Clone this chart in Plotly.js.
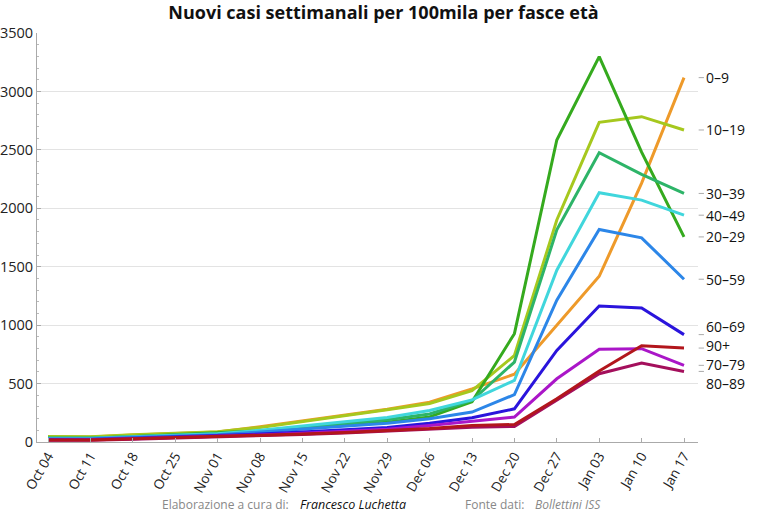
<!DOCTYPE html>
<html>
<head>
<meta charset="utf-8">
<script src="https://cdn.plot.ly/plotly-3.0.1.min.js"></script>
<style>html,body{margin:0;padding:0;background:#fff;}#chart{width:767px;height:514px;}</style>
</head>
<body>
<div id="chart"></div>
<script>
const weeks = ["Oct 04","Oct 11","Oct 18","Oct 25","Nov 01","Nov 08","Nov 15","Nov 22","Nov 29","Dec 06","Dec 13","Dec 20","Dec 27","Jan 03","Jan 10","Jan 17"];

const age_0_9   = [45, 42, 60, 75, 85, 130, 180, 225, 280, 340, 455, 580, 1000, 1418, 2215, 3118];
const age_10_19 = [48, 45, 62, 78, 88, 125, 175, 220, 275, 330, 440, 740, 1900, 2736, 2784, 2670];
const age_20_29 = [35, 35, 48, 62, 75, 95, 120, 145, 170, 215, 345, 927, 2584, 3298, 2480, 1755];
const age_30_39 = [33, 33, 45, 58, 72, 95, 125, 155, 190, 240, 355, 684, 1815, 2475, 2290, 2127];
const age_40_49 = [32, 32, 45, 57, 70, 100, 135, 170, 210, 270, 360, 527, 1470, 2133, 2070, 1941];
const age_50_59 = [28, 28, 40, 52, 62, 85, 110, 135, 160, 199, 256, 405, 1213, 1819, 1747, 1393];
const age_60_69 = [22, 22, 32, 42, 52, 68, 85, 105, 125, 161, 207, 284, 784, 1164, 1147, 919];
const age_70_79 = [18, 19, 28, 38, 48, 60, 75, 90, 110, 141, 178, 213, 541, 793, 799, 656];
const age_80_89 = [15, 16, 24, 33, 42, 52, 65, 78, 95, 110, 127, 133, 360, 584, 676, 604];
const age_90p   = [18, 18, 27, 36, 45, 56, 68, 82, 100, 115, 141, 150, 370, 607, 824, 804];

const seriesNames = ["0–9","10–19","20–29","30–39","40–49","50–59","60–69","70–79","80–89","90+"];
const seriesData = [age_0_9, age_10_19, age_20_29, age_30_39, age_40_49, age_50_59, age_60_69, age_70_79, age_80_89, age_90p];
const seriesColors = ["#EE9A2A","#A6C81E","#35AA1E","#2DB468","#40D6DC","#2C86E8","#2A14DC","#AA16C8","#A40F5C","#B2161C"];
// pixel nudges for the right-hand labels (to avoid overlap)
const labelShift = [0, 0, 0, 0, 0, 0, 8, 1, -12, 3];

const x = weeks.map((_, i) => i);
const traces = seriesData.map((d, k) => ({
  x: x, y: d, type: "scatter", mode: "lines", name: seriesNames[k],
  line: {color: seriesColors[k], width: 3}, hoverinfo: "skip"
}));

const annotations = seriesData.map((d, k) => ({
  x: 1, xref: "paper", y: d[d.length - 1], yref: "y",
  xanchor: "left", yanchor: "middle", xshift: 6, yshift: labelShift[k],
  text: seriesNames[k], showarrow: false,
  font: {family: "Open Sans, DejaVu Sans, sans-serif", size: 14, color: "#111"}
}));
const shapes = seriesData.map((d, k) => ({
  type: "line", xref: "paper", yref: "y", x0: 1.001, x1: 1.009,
  y0: d[d.length - 1], y1: d[d.length - 1],
  line: {color: "#aaaaaa", width: 1}
}));

const footY = -0.152;
const footFont = {family: "Open Sans, DejaVu Sans, sans-serif", size: 12, color: "#888"};
annotations.push(
  {xref: "paper", yref: "paper", x: (160 - 37) / 661, y: footY, xanchor: "left", yanchor: "middle", showarrow: false, text: "Elaborazione a cura di:", font: footFont},
  {xref: "paper", yref: "paper", x: (298 - 37) / 661, y: footY, xanchor: "left", yanchor: "middle", showarrow: false, text: "<i>Francesco Luchetta</i>", font: {family: footFont.family, size: 12.5, color: "#111"}},
  {xref: "paper", yref: "paper", x: (463 - 37) / 661, y: footY, xanchor: "left", yanchor: "middle", showarrow: false, text: "Fonte dati:", font: footFont},
  {xref: "paper", yref: "paper", x: (533 - 37) / 661, y: footY, xanchor: "left", yanchor: "middle", showarrow: false, text: "<i>Bollettini ISS</i>", font: footFont}
);

const layout = {
  width: 767, height: 514,
  margin: {l: 37, r: 69, t: 33, b: 72},
  paper_bgcolor: "#fff", plot_bgcolor: "#fff",
  showlegend: false,
  title: {text: "<b>Nuovi casi settimanali per 100mila per fasce età</b>", x: 0.5, xanchor: "center", y: 0.975, yanchor: "middle",
          font: {family: "Open Sans, DejaVu Sans, sans-serif", size: 18, color: "#111"}},
  xaxis: {
    range: [-0.26, 15.33], tickmode: "array", tickvals: x, ticktext: weeks, tickangle: -60,
    showgrid: false, zeroline: false, showline: true, linecolor: "#aaa", linewidth: 1,
    ticks: "inside", ticklen: 4, tickcolor: "#aaa",
    tickfont: {family: "Open Sans, DejaVu Sans, sans-serif", size: 13.5, color: "#222"}
  },
  yaxis: {
    range: [0, 3500], dtick: 500, tick0: 0,
    showgrid: true, gridcolor: "#e3e3e3", gridwidth: 1, zeroline: false,
    showline: true, linecolor: "#aaa", linewidth: 1,
    ticks: "inside", ticklen: 4, tickcolor: "#aaa",
    minor: {dtick: 100, ticks: "inside", ticklen: 2, tickcolor: "#bbb", showgrid: false},
    tickfont: {family: "Open Sans, DejaVu Sans, sans-serif", size: 14.5, color: "#222"}
  },
  annotations: annotations,
  shapes: shapes
};

Plotly.newPlot("chart", traces, layout, {displayModeBar: false, staticPlot: true});
</script>
</body>
</html>
